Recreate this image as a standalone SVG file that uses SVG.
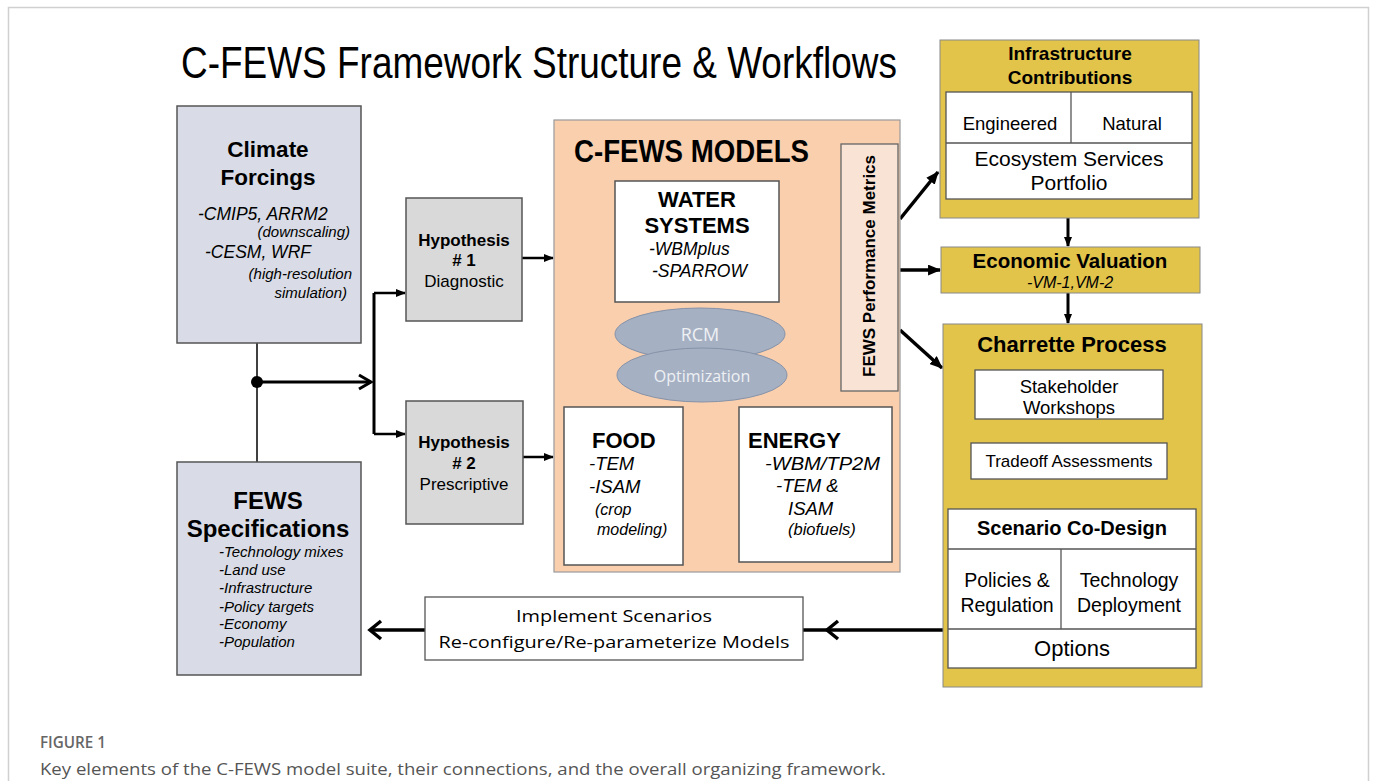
<svg xmlns="http://www.w3.org/2000/svg" width="1375" height="781" viewBox="0 0 1375 781">
<defs>
<style>
.sans{font-family:"Liberation Sans",Arial,sans-serif;}
.cal{font-family:"Open Sans","Liberation Sans",sans-serif;}
.b{font-weight:bold;}
.i{font-style:italic;}
.box{stroke:#555;stroke-width:1.5;}
.cell{fill:#fff;stroke:#555;stroke-width:1.3;}
.ln{stroke:#000;fill:none;}
</style>
<marker id="ah" viewBox="0 0 10 8" refX="9" refY="4" markerWidth="10" markerHeight="8" markerUnits="userSpaceOnUse" orient="auto-start-reverse"><path d="M0,0 L10,4 L0,8 z" fill="#000"/></marker>
<marker id="ahb" viewBox="0 0 12 10" refX="11" refY="5" markerWidth="13" markerHeight="11" markerUnits="userSpaceOnUse" orient="auto-start-reverse"><path d="M0,0 L12,5 L0,10 z" fill="#000"/></marker>
</defs>
<rect width="1375" height="781" fill="#fff"/>
<path d="M8.5,790 V7.5 H1368.5 V790" fill="none" stroke="#d0d0d0" stroke-width="1.5"/>

<text id="title" class="sans" transform="translate(181,78) scale(0.84,1)" x="0" y="0" font-size="44">C-FEWS Framework Structure &amp; Workflows</text>

<g id="connectors">
<line class="ln" x1="257" y1="343" x2="257" y2="462" stroke-width="1.5"/>
<circle cx="257" cy="382" r="6" fill="#000"/>
<line class="ln" x1="257" y1="382" x2="371" y2="382" stroke-width="3"/>
<path class="ln" d="M359,375 L371,382 L359,389" stroke-width="3"/>
<path class="ln" d="M374,293 V434" stroke-width="3"/>
<line class="ln" x1="374" y1="293" x2="405" y2="293" stroke-width="2.5" marker-end="url(#ah)"/>
<line class="ln" x1="374" y1="434" x2="405" y2="434" stroke-width="2.5" marker-end="url(#ah)"/>
<line class="ln" x1="522" y1="258" x2="553" y2="258" stroke-width="2.5" marker-end="url(#ah)"/>
<line class="ln" x1="523" y1="457" x2="553" y2="457" stroke-width="2.5" marker-end="url(#ah)"/>
<line class="ln" x1="611" y1="310" x2="588" y2="398" stroke-width="3" marker-start="url(#ah)" marker-end="url(#ah)"/>
<line class="ln" x1="783" y1="308" x2="820" y2="396" stroke-width="3" marker-start="url(#ah)" marker-end="url(#ah)"/>
<line class="ln" x1="684" y1="472" x2="738" y2="472" stroke-width="3" marker-start="url(#ah)" marker-end="url(#ah)"/>
<line class="ln" x1="900" y1="219" x2="938" y2="172" stroke-width="3.5" marker-end="url(#ahb)"/>
<line class="ln" x1="900" y1="270" x2="940" y2="270" stroke-width="3.5" marker-end="url(#ahb)"/>
<line class="ln" x1="900" y1="330" x2="942" y2="368" stroke-width="3.5" marker-end="url(#ahb)"/>
<line class="ln" x1="1068" y1="218" x2="1068" y2="246" stroke-width="3" marker-end="url(#ah)"/>
<line class="ln" x1="1068" y1="293" x2="1068" y2="323" stroke-width="3" marker-end="url(#ah)"/>
<line class="ln" x1="1070" y1="419" x2="1070" y2="442" stroke-width="2.5" marker-end="url(#ah)"/>
<line class="ln" x1="1069" y1="479" x2="1069" y2="507" stroke-width="2.5" marker-end="url(#ah)"/>
<line class="ln" x1="943" y1="630" x2="803" y2="630" stroke-width="3.5"/>
<path class="ln" d="M838,621 L827,630 L838,639" stroke-width="3.5"/>
<line class="ln" x1="425" y1="630" x2="370" y2="630" stroke-width="3.5"/>
<path class="ln" d="M381,621 L370,630 L381,639" stroke-width="3.5"/>
</g>

<g id="climate">
<rect class="box" x="177" y="106" width="184" height="237" fill="#d9dce6"/>
<text class="sans b" x="268" y="157" font-size="22.5" text-anchor="middle">Climate</text>
<text class="sans b" x="268" y="185" font-size="22.5" text-anchor="middle">Forcings</text>
<text class="sans i" x="198" y="220" font-size="17.5">-CMIP5, ARRM2</text>
<text class="sans i" x="350" y="237" font-size="15" text-anchor="end">(downscaling)</text>
<text class="sans i" x="205" y="258" font-size="17.5">-CESM, WRF</text>
<text class="sans i" x="352" y="279" font-size="15" text-anchor="end">(high-resolution</text>
<text class="sans i" x="347" y="298" font-size="15" text-anchor="end">simulation)</text>
</g>

<g id="fews-spec">
<rect class="box" x="177" y="462" width="184" height="213" fill="#d9dce6"/>
<text class="sans b" x="268" y="509" font-size="24" text-anchor="middle">FEWS</text>
<text class="sans b" x="268" y="537" font-size="24" text-anchor="middle">Specifications</text>
<g class="sans i" font-size="15">
<text x="219" y="557">-Technology mixes</text>
<text x="219" y="575">-Land use</text>
<text x="219" y="593">-Infrastructure</text>
<text x="219" y="612">-Policy targets</text>
<text x="219" y="629">-Economy</text>
<text x="219" y="647">-Population</text>
</g>
</g>

<g id="hyp1">
<rect class="box" x="406" y="198" width="116" height="123" fill="#d9d9d9"/>
<text class="sans b" x="464" y="246" font-size="17" text-anchor="middle">Hypothesis</text>
<text class="sans b" x="464" y="266" font-size="17" text-anchor="middle"># 1</text>
<text class="sans" x="464" y="287" font-size="17" text-anchor="middle">Diagnostic</text>
</g>

<g id="hyp2">
<rect class="box" x="406" y="401" width="117" height="123" fill="#d9d9d9"/>
<text class="sans b" x="464" y="448" font-size="17" text-anchor="middle">Hypothesis</text>
<text class="sans b" x="464" y="469" font-size="17" text-anchor="middle"># 2</text>
<text class="sans" x="464" y="490" font-size="17" text-anchor="middle">Prescriptive</text>
</g>

<g id="models">
<rect x="554" y="120" width="346" height="452" fill="#f9cfae" stroke="#999" stroke-width="1.2"/>
<text class="sans b" x="574" y="162" font-size="31" textLength="235" lengthAdjust="spacingAndGlyphs">C-FEWS MODELS</text>
</g>

<g id="water">
<rect class="box" x="615" y="181" width="164" height="121" fill="#fff"/>
<text class="sans b" x="697" y="207" font-size="22" text-anchor="middle">WATER</text>
<text class="sans b" x="697" y="233" font-size="22" text-anchor="middle">SYSTEMS</text>
<text class="sans i" x="649" y="255" font-size="17.5">-WBMplus</text>
<text class="sans i" x="652" y="277" font-size="17.5">-SPARROW</text>
</g>

<g id="rcm">
<ellipse cx="700" cy="334" rx="85" ry="26" fill="#a6b0c3" stroke="#8592a8" stroke-width="1"/>
<text class="cal" x="700" y="341" font-size="18" fill="#eef0f4" text-anchor="middle">RCM</text>
</g>
<g id="optimization">
<ellipse cx="702" cy="375" rx="85" ry="27" fill="#a6b0c3" stroke="#8592a8" stroke-width="1"/>
<text class="cal" x="702" y="382" font-size="16" fill="#eef0f4" text-anchor="middle">Optimization</text>
</g>

<g id="food">
<rect class="box" x="564" y="407" width="119" height="158" fill="#fff"/>
<text class="sans b" x="592" y="448" font-size="22">FOOD</text>
<text class="sans i" x="589" y="470" font-size="18.5">-TEM</text>
<text class="sans i" x="589" y="493" font-size="18.5">-ISAM</text>
<text class="sans i" x="595" y="515" font-size="16">(crop</text>
<text class="sans i" x="597" y="535" font-size="16">modeling)</text>
</g>

<g id="energy">
<rect class="box" x="739" y="407" width="153" height="155" fill="#fff"/>
<text class="sans b" x="748" y="448" font-size="22">ENERGY</text>
<text class="sans i" x="765" y="470" font-size="18.5" textLength="115" lengthAdjust="spacingAndGlyphs">-WBM/TP2M</text>
<text class="sans i" x="776" y="492" font-size="18.5">-TEM &amp;</text>
<text class="sans i" x="788" y="515" font-size="18.5">ISAM</text>
<text class="sans i" x="788" y="535" font-size="16.5">(biofuels)</text>
</g>

<g id="metrics">
<rect x="841" y="144" width="57" height="247" fill="#f9e3d5" stroke="#666" stroke-width="1.3"/>
<text class="sans b" transform="translate(875,266) rotate(-90)" font-size="17" text-anchor="middle">FEWS Performance Metrics</text>
</g>

<g id="infrastructure">
<rect x="940" y="40" width="259" height="178" fill="#e2c44b" stroke="#888" stroke-width="1"/>
<text class="sans b" x="1070" y="60" font-size="19" text-anchor="middle">Infrastructure</text>
<text class="sans b" x="1070" y="84" font-size="19" text-anchor="middle">Contributions</text>
<rect class="cell" x="946" y="92" width="246" height="107"/>
<line x1="946" y1="143" x2="1192" y2="143" stroke="#555" stroke-width="1.3"/>
<line x1="1071" y1="92" x2="1071" y2="143" stroke="#555" stroke-width="1.3"/>
<text class="sans" x="1010" y="130" font-size="18.5" text-anchor="middle">Engineered</text>
<text class="sans" x="1132" y="130" font-size="18.5" text-anchor="middle">Natural</text>
<text class="sans" x="1069" y="166" font-size="21" text-anchor="middle">Ecosystem Services</text>
<text class="sans" x="1069" y="190" font-size="21" text-anchor="middle">Portfolio</text>
</g>

<g id="economic">
<rect x="941" y="247" width="259" height="46" fill="#e2c44b" stroke="#888" stroke-width="1"/>
<text class="sans b" x="1070" y="268" font-size="20.5" text-anchor="middle">Economic Valuation</text>
<text class="sans i" x="1070" y="288" font-size="16" text-anchor="middle">-VM-1,VM-2</text>
</g>

<g id="charrette">
<rect x="943" y="324" width="259" height="363" fill="#e2c44b" stroke="#888" stroke-width="1"/>
<text class="sans b" x="1072" y="352" font-size="22" text-anchor="middle">Charrette Process</text>
</g>
<g id="stakeholder">
<rect class="cell" x="975" y="370" width="188" height="49"/>
<text class="sans" x="1069" y="393" font-size="18.5" text-anchor="middle">Stakeholder</text>
<text class="sans" x="1069" y="414" font-size="18.5" text-anchor="middle">Workshops</text>
</g>
<g id="tradeoff">
<rect class="cell" x="971" y="443" width="196" height="36"/>
<text class="sans" x="1069" y="467" font-size="17" text-anchor="middle">Tradeoff Assessments</text>
</g>
<g id="scenario">
<rect class="cell" x="948" y="509" width="248" height="159"/>
<line x1="948" y1="549" x2="1196" y2="549" stroke="#555" stroke-width="1.3"/>
<line x1="948" y1="629" x2="1196" y2="629" stroke="#555" stroke-width="1.3"/>
<line x1="1061" y1="549" x2="1061" y2="629" stroke="#555" stroke-width="1.3"/>
<text class="sans b" x="1072" y="535" font-size="20" text-anchor="middle">Scenario Co-Design</text>
<text class="sans" x="1007" y="587" font-size="19.5" text-anchor="middle">Policies &amp;</text>
<text class="sans" x="1007" y="612" font-size="19.5" text-anchor="middle">Regulation</text>
<text class="sans" x="1129" y="587" font-size="19.5" text-anchor="middle">Technology</text>
<text class="sans" x="1129" y="612" font-size="19.5" text-anchor="middle">Deployment</text>
<text class="sans" x="1072" y="656" font-size="22" text-anchor="middle">Options</text>
</g>

<g id="implement">
<rect x="425" y="597" width="378" height="63" fill="#fff" stroke="#555" stroke-width="1.3"/>
<text class="cal" x="614" y="622" font-size="17" text-anchor="middle" textLength="196" lengthAdjust="spacingAndGlyphs">Implement Scenarios</text>
<text class="cal" x="614" y="648" font-size="17" text-anchor="middle" textLength="351" lengthAdjust="spacingAndGlyphs">Re-configure/Re-parameterize Models</text>
</g>

<g id="caption">
<text class="cal" x="40" y="748" font-size="17" font-weight="600" fill="#666" textLength="66" lengthAdjust="spacingAndGlyphs">FIGURE 1</text>
<text class="cal" x="40" y="775" font-size="16" fill="#555" textLength="846" lengthAdjust="spacingAndGlyphs">Key elements of the C-FEWS model suite, their connections, and the overall organizing framework.</text>
</g>
</svg>
